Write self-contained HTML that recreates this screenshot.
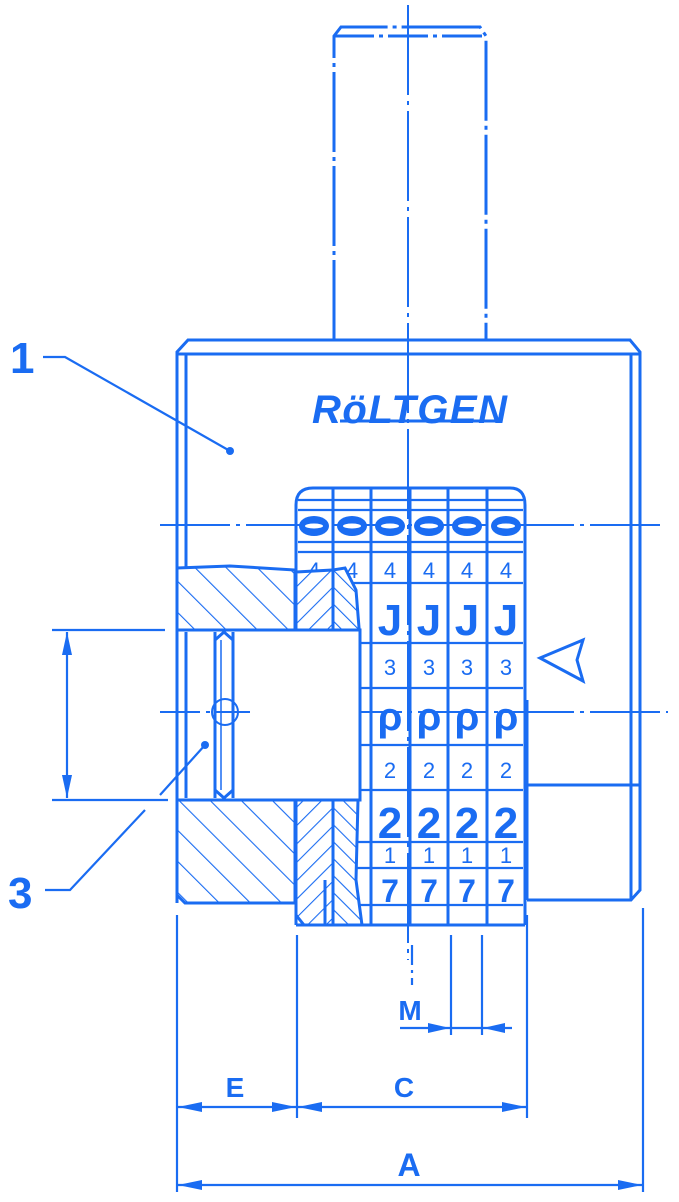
<!DOCTYPE html>
<html><head><meta charset="utf-8"><style>
html,body{margin:0;padding:0;background:#fff;}
svg{display:block;}
text{font-family:"Liberation Sans",sans-serif;fill:#1a6cf2;}
</style></head><body>
<svg width="679" height="1202" viewBox="0 0 679 1202" xmlns="http://www.w3.org/2000/svg">
<defs>
<pattern id="h1" patternUnits="userSpaceOnUse" width="22" height="22" patternTransform="rotate(-45)">
<line x1="0" y1="0" x2="0" y2="22" stroke="#1a6cf2" stroke-width="2.2"/></pattern>
<pattern id="h2" patternUnits="userSpaceOnUse" width="13" height="13" patternTransform="rotate(45)">
<line x1="0" y1="0" x2="0" y2="13" stroke="#1a6cf2" stroke-width="2.2"/></pattern>
<pattern id="h3" patternUnits="userSpaceOnUse" width="12" height="12" patternTransform="rotate(-45)">
<line x1="0" y1="0" x2="0" y2="12" stroke="#1a6cf2" stroke-width="2.2"/></pattern>
</defs>
<g stroke="#1a6cf2" stroke-width="3" fill="none">
<path d="M334 340 V36 L341 27 H480 L486 36 V340" stroke-dasharray="80 5 4 5"/>
<line x1="334" y1="36" x2="486" y2="36" stroke-dasharray="40 5 4 5"/>
<line x1="408" y1="5" x2="408" y2="960" stroke-width="2" stroke-dasharray="90 6 4 6"/>
<path d="M177 903 V352 L188 340 H630 L640 352 V890 L631 900 H527"/>
<line x1="177" y1="354" x2="640" y2="354"/>
<line x1="186" y1="354" x2="186" y2="568"/>
<line x1="631" y1="354" x2="631" y2="900"/>
<line x1="527" y1="785" x2="640" y2="785"/>
<line x1="527" y1="700" x2="527" y2="900"/>
<line x1="160" y1="525" x2="660" y2="525" stroke-width="2" stroke-dasharray="70 6 4 6"/>
<line x1="160" y1="712" x2="668" y2="712" stroke-width="2" stroke-dasharray="70 6 4 6"/>
</g>
<text x="312" y="423" font-size="40" font-style="italic" font-weight="bold" textLength="195">RöLTGEN</text>
<line x1="340" y1="421" x2="500" y2="421" stroke="#1a6cf2" stroke-width="3"/>
<circle cx="230" cy="451" r="4" fill="#1a6cf2"/>
<g stroke="#1a6cf2" stroke-width="3" fill="none">
<path d="M296 925 V505 Q296 488 313 488 H510 Q525 488 525 505 V925"/>
<path d="M296 925 H525"/>
<line x1="333" y1="488" x2="333" y2="925"/><line x1="371" y1="488" x2="371" y2="925"/>
<line x1="410" y1="488" x2="410" y2="925"/><line x1="448" y1="488" x2="448" y2="925"/>
<line x1="487" y1="488" x2="487" y2="925"/>
</g>
<g stroke="#1a6cf2" stroke-width="2.2" fill="none">
<path d="M298 500 H523 M298 510 H523 M298 542 H523 M298 552 H523 M298 583 H523 M298 643 H523 M298 688 H523 M298 745 H523 M298 790 H523 M298 842 H523 M298 868 H523 M298 905 H523"/>
</g>
<g fill="#1a6cf2">
<ellipse cx="314" cy="526" rx="15" ry="10"/><ellipse cx="352" cy="526" rx="15" ry="10"/><ellipse cx="390" cy="526" rx="15" ry="10"/>
<ellipse cx="429" cy="526" rx="15" ry="10"/><ellipse cx="467" cy="526" rx="15" ry="10"/><ellipse cx="506" cy="526" rx="15" ry="10"/>
</g>
<g fill="#fff"><ellipse cx="314" cy="526" rx="9" ry="2.5"/><ellipse cx="352" cy="526" rx="9" ry="2.5"/><ellipse cx="390" cy="526" rx="9" ry="2.5"/><ellipse cx="429" cy="526" rx="9" ry="2.5"/><ellipse cx="467" cy="526" rx="9" ry="2.5"/><ellipse cx="506" cy="526" rx="9" ry="2.5"/></g>
<g font-size="22" text-anchor="middle">
<text x="314" y="578">4</text><text x="352" y="578">4</text><text x="390" y="578">4</text><text x="429" y="578">4</text><text x="467" y="578">4</text><text x="506" y="578">4</text>
<text x="390" y="675">3</text><text x="429" y="675">3</text><text x="467" y="675">3</text><text x="506" y="675">3</text>
<text x="352" y="778">2</text><text x="390" y="778">2</text><text x="429" y="778">2</text><text x="467" y="778">2</text><text x="506" y="778">2</text>
<text x="390" y="863">1</text><text x="429" y="863">1</text><text x="467" y="863">1</text><text x="506" y="863">1</text>
</g>
<g font-size="44" font-weight="bold" text-anchor="middle">
<text x="390" y="635">J</text><text x="429" y="635">J</text><text x="467" y="635">J</text><text x="506" y="635">J</text>
<text x="390" y="730" font-size="40">ρ</text><text x="429" y="730" font-size="40">ρ</text><text x="467" y="730" font-size="40">ρ</text><text x="506" y="730" font-size="40">ρ</text>
<text x="390" y="838">2</text><text x="429" y="838">2</text><text x="467" y="838">2</text><text x="506" y="838">2</text>
<text x="390" y="902" font-size="32">7</text><text x="429" y="902" font-size="32">7</text><text x="467" y="902" font-size="32">7</text><text x="506" y="902" font-size="32">7</text>
</g>
<path d="M177 568 L230 566 L295 570 V630 H177 Z" fill="url(#h1)" stroke="#1a6cf2" stroke-width="3"/>
<path d="M177 800 H295 V903 H185 L177 895 Z" fill="url(#h1)" stroke="#1a6cf2" stroke-width="3"/>
<path d="M296 572 L333 570 V925 H304 L296 915 Z" fill="#fff" stroke="none"/>
<path d="M296 572 L333 570 V925 H304 L296 915 Z" fill="url(#h2)" stroke="#1a6cf2" stroke-width="3"/>
<path d="M333 570 L345 568 L356 590 L360 640 L352 700 L358 800 L356 880 L362 925 H333 Z" fill="#fff" stroke="none"/>
<path d="M333 570 L345 568 L356 590 L360 640 L352 700 L358 800 L356 880 L362 925 H333 Z" fill="url(#h3)" stroke="#1a6cf2" stroke-width="3"/>
<line x1="325" y1="880" x2="325" y2="925" stroke="#1a6cf2" stroke-width="3"/>
<rect x="177" y="630" width="183" height="170" fill="#fff" stroke="#1a6cf2" stroke-width="3"/>
<g stroke="#1a6cf2" stroke-width="3" fill="none">
<line x1="186" y1="632" x2="186" y2="798"/>
<line x1="215" y1="632" x2="215" y2="798"/><line x1="233" y1="632" x2="233" y2="798"/>
<line x1="221" y1="640" x2="221" y2="790" stroke-width="1.5"/>
<path d="M215 640 L224 632 L233 640 M215 790 L224 798 L233 790"/>
<circle cx="225" cy="712" r="13" stroke-width="2"/>
<line x1="160" y1="712" x2="250" y2="712" stroke-width="2" stroke-dasharray="40 6 4 6"/>
<path d="M540 658 L583 640 L577 660 L583 681 Z"/>
<path d="M43 357 H65 L230 451" stroke-width="2.2"/>
<path d="M45 890 H70 L145 810" stroke-width="2.2"/>
<path d="M160 795 L205 745" stroke-width="2.2"/>
<line x1="52" y1="630" x2="165" y2="630" stroke-width="2.2"/>
<line x1="52" y1="800" x2="168" y2="800" stroke-width="2.2"/>
<line x1="67" y1="632" x2="67" y2="798" stroke-width="2.2"/>
<line x1="177" y1="915" x2="177" y2="1192" stroke-width="2.2"/>
<line x1="297" y1="935" x2="297" y2="1118" stroke-width="2.2"/>
<line x1="527" y1="915" x2="527" y2="1118" stroke-width="2.2"/>
<line x1="643" y1="908" x2="643" y2="1192" stroke-width="2.2"/>
<line x1="451" y1="935" x2="451" y2="1035" stroke-width="2.2"/>
<line x1="482" y1="935" x2="482" y2="1035" stroke-width="2.2"/>
<line x1="412" y1="945" x2="412" y2="985" stroke-width="2.2" stroke-dasharray="20 5 3 5"/>
<line x1="177" y1="1107" x2="527" y2="1107" stroke-width="2.2"/>
<line x1="177" y1="1185" x2="643" y2="1185" stroke-width="2.2"/>
<line x1="400" y1="1028" x2="512" y2="1028" stroke-width="2.2"/>
</g>
<circle cx="205" cy="745" r="4" fill="#1a6cf2"/>
<g fill="#1a6cf2">
<path d="M67 632 L62 655 L72 655 Z"/><path d="M67 798 L62 775 L72 775 Z"/>
<path d="M178 1107 L202 1102 L202 1112 Z"/><path d="M296 1107 L272 1102 L272 1112 Z"/>
<path d="M298 1107 L322 1102 L322 1112 Z"/><path d="M526 1107 L502 1102 L502 1112 Z"/>
<path d="M178 1185 L202 1180 L202 1190 Z"/><path d="M642 1185 L618 1180 L618 1190 Z"/>
<path d="M450 1028 L428 1023 L428 1033 Z"/><path d="M483 1028 L505 1023 L505 1033 Z"/>
</g>
<g font-size="44" font-weight="bold">
<text x="10" y="373">1</text>
<text x="8" y="908">3</text>
</g>
<g font-size="28" font-weight="bold" text-anchor="middle">
<text x="235" y="1097">E</text>
<text x="404" y="1097">C</text>
<text x="410" y="1020">M</text>
<text x="409" y="1176" font-size="32">A</text>
</g>
</svg>
</body></html>
